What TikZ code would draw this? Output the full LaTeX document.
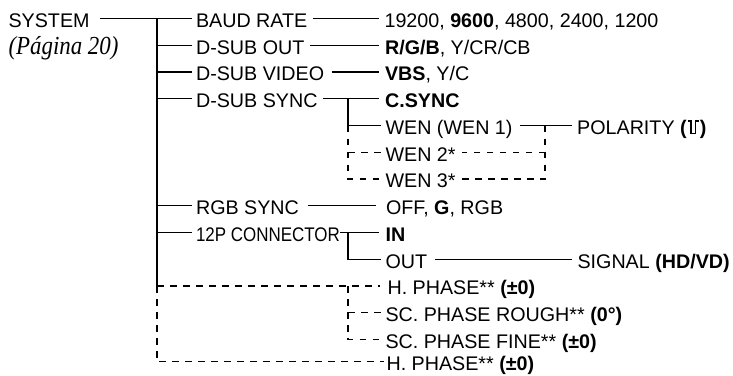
\documentclass[tikz,border=0pt]{standalone}
\usepackage{fontspec}
\setmainfont{Liberation Sans}
\newfontfamily\condfont[FakeStretch=0.86]{Liberation Sans}
\newfontfamily\pagfont[FakeStretch=0.88]{Liberation Serif}
\newcommand\pulsesym{\tikz[baseline=0pt,x=1pt,y=1pt,line width=1.7pt,line cap=butt,line join=miter]\draw (0,13)--(3.5,13)--(3.5,0.9)--(8,0.9)--(8,13)--(11.5,13);}
\tikzset{
  lbl/.style={anchor=base west,inner sep=0pt,text height=17.6pt,text depth=0pt,
    font=\fontsize{19.7pt}{20pt}\selectfont},
  dsh/.style={dash pattern=on 6.5pt off 6.5pt},
}
\begin{document}
\begin{tikzpicture}[x=1pt,y=-1pt,line width=1.1pt]
\useasboundingbox (0,0) rectangle (733,375);
% column A
\node[lbl] (sys) at (8,27.3) {SYSTEM};
\node[anchor=base west,inner sep=0pt,font=\pagfont\itshape\fontsize{26pt}{26pt}\selectfont] (pag) at (8,54.7) {(Página 20)};
% column B
\node[lbl] (baud) at (195.5,27.3) {BAUD RATE};
\node[lbl] (out) at (195.5,54.05) {D-SUB OUT};
\node[lbl] (video) at (195.5,80.8) {D-SUB VIDEO};
\node[lbl] (sync) at (195.5,107.55) {D-SUB SYNC};
\node[lbl] (rgb) at (195.5,214.55) {RGB SYNC};
\node[lbl,font=\condfont\fontsize{19.7pt}{20pt}\selectfont] (conn) at (195.5,241.3) {12P CONNECTOR};
% column C
\node[lbl] (baudv) at (384,27.3) {19200, \textbf{9600}, 4800, 2400, 1200};
\node[lbl] (outv) at (384.5,54.05) {\textbf{R/G/B}, Y/CR/CB};
\node[lbl] (videov) at (384.5,80.8) {\textbf{VBS}, Y/C};
\node[lbl] (csync) at (384.5,107.55) {\textbf{C.SYNC}};
\node[lbl] (wen1) at (385,134.3) {WEN (WEN 1)};
\node[lbl] (wen2) at (385,161.05) {WEN 2*};
\node[lbl] (wen3) at (385,187.8) {WEN 3*};
\node[lbl] (rgbv) at (385.5,214.55) {OFF, \textbf{G}, RGB};
\node[lbl] (inn) at (385,241.3) {\textbf{IN}};
\node[lbl] (outc) at (385,268.05) {OUT};
\node[lbl] (hph1) at (387,294.8) {H. PHASE** \textbf{(±0)}};
\node[lbl] (scr) at (385,321.55) {SC. PHASE ROUGH** \textbf{(0°)}};
\node[lbl] (scf) at (385,348.3) {SC. PHASE FINE** \textbf{(±0)}};
\node[lbl] (hph2) at (386,370.5) {H. PHASE** \textbf{(±0)}};
% column D
\node[lbl] (pol) at (577,134.3) {POLARITY \textbf{(}\pulsesym\textbf{)}};
\node[lbl] (sig) at (577,268.05) {SIGNAL \textbf{(HD/VD)}};
% helper coordinates
\coordinate (t1) at (157,18.5);
\coordinate (t11) at (157,286);
\coordinate (sx) at (348,0);
\coordinate (wx) at (545,0);
% trunk
\draw ([xshift=10pt]sys.east) -- ([xshift=-3.5pt]baud.west);
\draw (t1) -- (t11);
\draw[dsh] (t11) -- (t1 |- hph2.west) -- ([xshift=-2pt]hph2.west);
\draw[dsh] (t11) -- ([xshift=-7pt]hph1.west);
\foreach \n in {out,video,sync,rgb,conn}
  \draw (t1 |- \n.west) -- ([xshift=-3.5pt]\n.west);
% column B to C
\draw ([xshift=5pt]baud.east) -- ([xshift=-5pt]baudv.west);
\draw ([xshift=5pt]out.east) -- ([xshift=-5.5pt]outv.west);
\draw ([xshift=7pt]video.east) -- ([xshift=-5.5pt]videov.west);
\draw ([xshift=5pt]sync.east) -- ([xshift=-5.5pt]csync.west);
\draw ([xshift=8pt]rgb.east) -- ([xshift=-10pt]rgbv.west);
\draw (conn.east) -- ([xshift=-6pt]inn.west);
% D-SUB SYNC sub-tree
\draw (sx |- sync.east) -- (sx |- wen1.west) -- ([xshift=-4pt]wen1.west);
\draw[dsh] (sx |- wen1.west) -- (sx |- wen3.west) -- ([xshift=-1pt]wen3.west);
\draw[dsh] (sx |- wen2.west) -- ([xshift=-1pt]wen2.west);
% WEN to polarity
\draw ([xshift=7pt]wen1.east) -- ([xshift=-5pt]pol.west);
\draw[dsh] (wx |- wen1.east) -- (wx |- wen3.east) -- ([xshift=6pt]wen3.east);
\draw[dsh] (wx |- wen2.east) -- ([xshift=6pt]wen2.east);
% 12P connector sub-tree
\draw (sx |- conn.east) -- (sx |- outc.west) -- ([xshift=-4pt]outc.west);
\draw ([xshift=7pt]outc.east) -- ([xshift=-5pt]sig.west);
% phase sub-tree
\draw[dsh] (sx |- hph1.west) -- (sx |- scf.west) -- ([xshift=-1pt]scf.west);
\draw[dsh] (sx |- scr.west) -- ([xshift=-1pt]scr.west);
\end{tikzpicture}
\end{document}
